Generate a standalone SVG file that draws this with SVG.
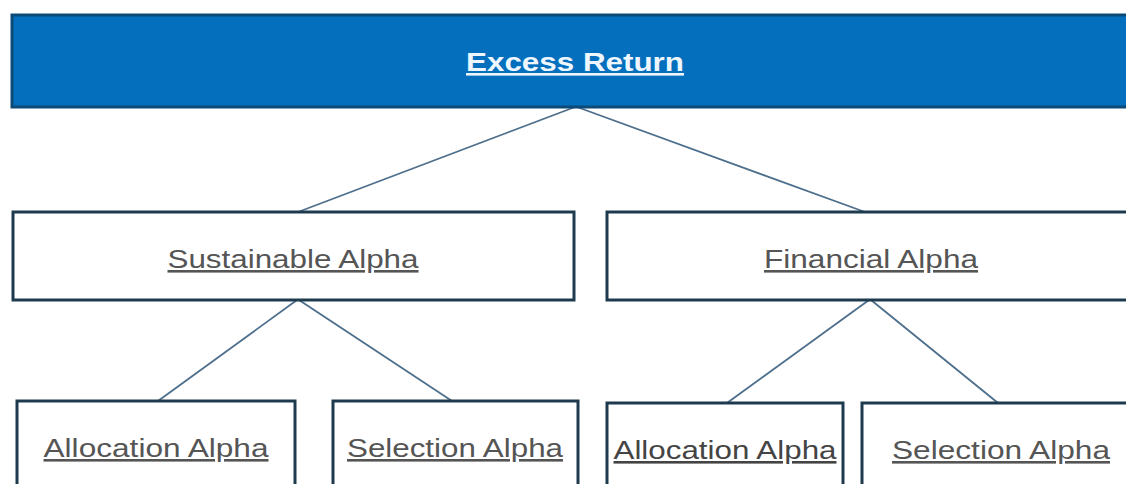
<svg xmlns="http://www.w3.org/2000/svg" width="1126" height="484" viewBox="0 0 1126 484">
<style>
.box{fill:#ffffff;stroke:#1e3a4e;stroke-width:3}
.lbl{font-family:"Liberation Sans",Arial,sans-serif;font-size:26px;fill:#555555;text-decoration:underline;text-anchor:middle}
.ttl{font-family:"Liberation Sans",Arial,sans-serif;font-size:26px;font-weight:bold;fill:#eef6ff;text-decoration:underline;text-anchor:middle}
.con{stroke:#4d6f8c;stroke-width:1.8;fill:none}
</style>
<rect width="1126" height="484" fill="#ffffff"/>
<g id="connectors">
<line class="con" x1="575" y1="107" x2="298" y2="212"/>
<line class="con" x1="577" y1="107" x2="865" y2="212"/>
<line class="con" x1="297" y1="300" x2="158" y2="401"/>
<line class="con" x1="299" y1="300" x2="452" y2="401"/>
<line class="con" x1="869" y1="300" x2="727" y2="403"/>
<line class="con" x1="871" y1="300" x2="998" y2="403"/>
</g>
<g id="excess-return">
<rect x="12" y="15" width="1120" height="92" fill="#036fbd" stroke="#0c4a78" stroke-width="3"/>
<text class="ttl" x="575" y="71" textLength="218" lengthAdjust="spacingAndGlyphs">Excess Return</text>
</g>
<g id="sustainable-alpha">
<rect class="box" x="13" y="212" width="561" height="88"/>
<text class="lbl" x="293" y="268" textLength="251" lengthAdjust="spacingAndGlyphs">Sustainable Alpha</text>
</g>
<g id="financial-alpha">
<rect class="box" x="607" y="212" width="530" height="88"/>
<text class="lbl" x="871" y="268" textLength="214" lengthAdjust="spacingAndGlyphs">Financial Alpha</text>
</g>
<g id="allocation-alpha-1">
<rect class="box" x="17" y="401" width="278" height="100"/>
<text class="lbl" x="156" y="457" textLength="225" lengthAdjust="spacingAndGlyphs">Allocation Alpha</text>
</g>
<g id="selection-alpha-1">
<rect class="box" x="333" y="401" width="245" height="100"/>
<text class="lbl" x="455" y="457" textLength="216" lengthAdjust="spacingAndGlyphs">Selection Alpha</text>
</g>
<g id="allocation-alpha-2">
<rect class="box" x="607" y="403" width="236" height="100"/>
<text class="lbl" x="725" y="459" textLength="223" lengthAdjust="spacingAndGlyphs" style="fill:#444444">Allocation Alpha</text>
</g>
<g id="selection-alpha-2">
<rect class="box" x="862" y="403" width="275" height="100"/>
<text class="lbl" x="1001" y="459" textLength="218" lengthAdjust="spacingAndGlyphs">Selection Alpha</text>
</g>
</svg>
